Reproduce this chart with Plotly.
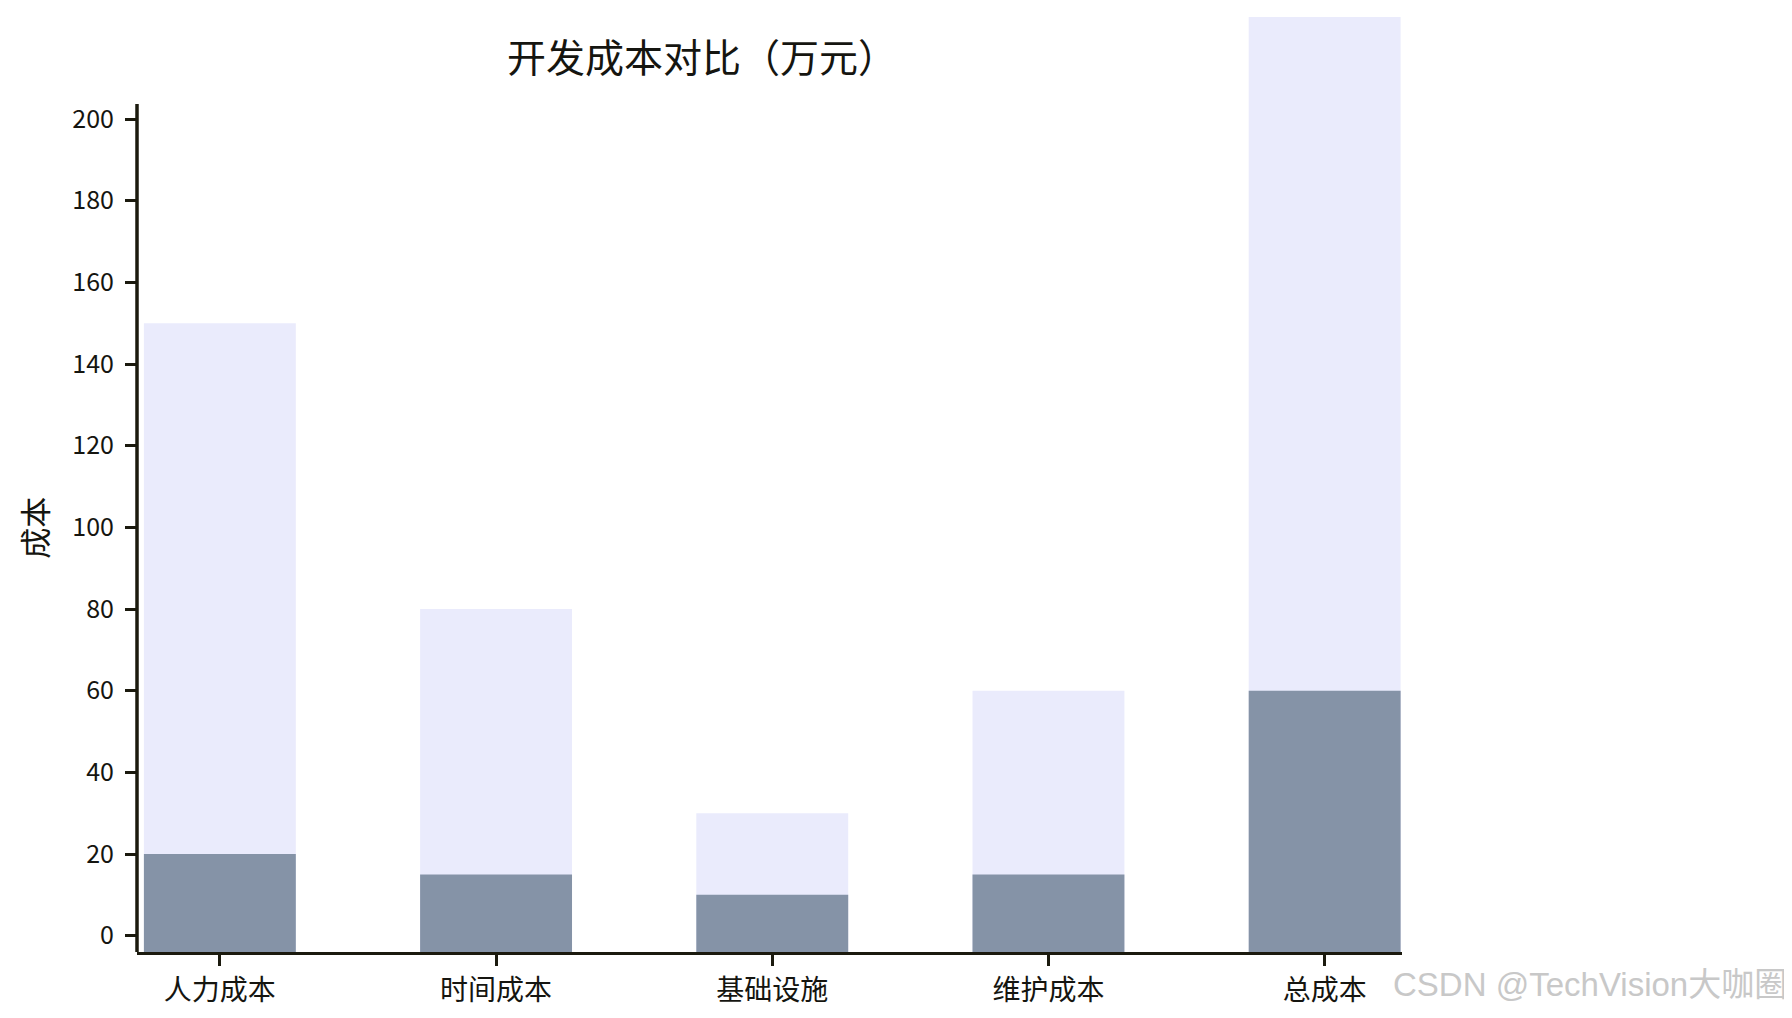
import plotly.graph_objects as go

# 成本数据（万元）
categories = ["人力成本", "时间成本", "基础设施", "维护成本", "总成本"]
traditional_cost = [150, 80, 30, 60, 320]
ai_cost = [20, 15, 10, 15, 60]
y_ticks = [0, 20, 40, 60, 80, 100, 120, 140, 160, 180, 200]

# page body has an 8px margin, so the figure is a bit smaller than the window
W, H = 1784, 1010
Y_MIN, Y_MAX = -4.0, 225
AXIS_COLOR = "#1b1a0e"
TEXT_COLOR = "#151510"
FONT = "Noto Sans CJK SC"

fig = go.Figure()

# bars start at the bottom edge of the plot (below zero), like the original
fig.add_trace(go.Bar(
    x=categories,
    y=[v - Y_MIN for v in traditional_cost],
    base=[Y_MIN] * len(categories),
    marker=dict(color="#eaebfc", line=dict(width=0)),
    name="传统开发",
))
fig.add_trace(go.Bar(
    x=categories,
    y=[v - Y_MIN for v in ai_cost],
    base=[Y_MIN] * len(categories),
    marker=dict(color="#8593a7", line=dict(width=0)),
    name="AI开发",
))

fig.update_layout(
    width=W,
    height=H,
    barmode="overlay",
    bargap=0.45,
    showlegend=False,
    plot_bgcolor="white",
    paper_bgcolor="white",
    margin=dict(l=129, r=390, t=9, b=66),
    font=dict(family=FONT, color=TEXT_COLOR),
    title=dict(
        text="开发成本对比（万元）",
        x=694 / W, xref="container", xanchor="center",
        y=1 - 50 / H, yref="container", yanchor="middle",
        font=dict(size=39, family=FONT, color=TEXT_COLOR),
    ),
)

fig.update_xaxes(
    range=[-0.3, 4.28],
    showline=True, linewidth=3.3, linecolor=AXIS_COLOR,
    ticks="outside", ticklen=11, tickwidth=3, tickcolor=AXIS_COLOR,
    tickfont=dict(size=28, family=FONT, color=TEXT_COLOR),
    showgrid=False, zeroline=False, fixedrange=True,
)
fig.update_yaxes(
    range=[Y_MIN, Y_MAX],
    tickvals=y_ticks,
    showline=False,
    ticks="outside", ticklen=11, tickwidth=3, tickcolor=AXIS_COLOR,
    ticklabelstandoff=6,
    tickfont=dict(size=25, family=FONT, color=TEXT_COLOR),
    showgrid=False, zeroline=False, fixedrange=True,
)

# y axis spine stops a bit above the 200 tick
fig.add_shape(
    type="line", xref="paper", yref="y",
    x0=0, x1=0, y0=Y_MIN, y1=203.7,
    line=dict(color=AXIS_COLOR, width=3.5),
)

fig.add_annotation(
    text="成本", textangle=-90,
    xref="paper", yref="paper", x=-0.082, y=0.454,
    xanchor="center", yanchor="middle", showarrow=False,
    font=dict(size=31, family=FONT, color=TEXT_COLOR),
)

# watermark
fig.add_annotation(
    text="CSDN @TechVision大咖圈",
    xref="paper", yref="paper", x=1.306, y=-0.035,
    xanchor="right", yanchor="middle", showarrow=False,
    font=dict(size=33, family="Liberation Sans, Noto Sans CJK SC", color="#c8c8c8"),
)

fig.write_html("out.html")
